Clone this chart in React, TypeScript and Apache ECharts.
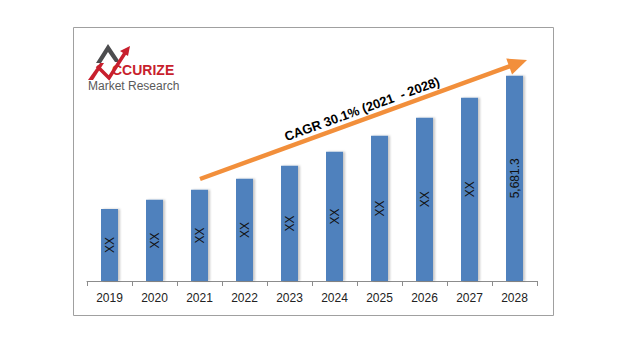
import React, { useEffect, useRef } from "react";
import * as echarts from "echarts";

const years = ["2019", "2020", "2021", "2022", "2023", "2024", "2025", "2026", "2027", "2028"];
const values = [1995, 2245, 2522, 2827, 3187, 3575, 4018, 4517, 5071, 5681.3];
const valueLabels = ["XX", "XX", "XX", "XX", "XX", "XX", "XX", "XX", "XX", "5,681.3"];
const cagrText = "CAGR 30.1% (2021  - 2028)";
const brandText = "CCURIZE";
const subBrandText = "Market Research";

export default function App() {
  const ref = useRef<HTMLDivElement>(null);
  useEffect(() => {
    if (!ref.current) return;
    const chart = echarts.init(ref.current, null, { renderer: "svg" });
    const tip = [527, 60];
    const start = [200, 179];
    const dx = tip[0] - start[0];
    const dy = tip[1] - start[1];
    const len = Math.sqrt(dx * dx + dy * dy);
    const ux = dx / len, uy = dy / len;
    const nx = -uy, ny = ux;
    const hl = 19, hw = 8.5;
    const base = [tip[0] - hl * ux, tip[1] - hl * uy];
    const angle = Math.atan2(-dy, dx);
    chart.setOption({
      animation: false,
      textStyle: { fontFamily: "Liberation Sans, Arial, sans-serif" },
      grid: { left: 87, right: 103, top: 28, bottom: 76 },
      xAxis: {
        type: "category",
        data: years,
        axisLine: { lineStyle: { color: "#8c8c8c", width: 1 } },
        axisTick: { show: true, length: 5, alignWithLabel: false, lineStyle: { color: "#8c8c8c" } },
        axisLabel: { color: "#222", fontSize: 12, margin: 11 },
      },
      yAxis: { type: "value", show: false, min: 0, max: 7000, splitLine: { show: false } },
      series: [
        {
          type: "bar",
          data: values,
          barWidth: 17,
          itemStyle: {
            color: "#4F81BD",
            shadowColor: "rgba(0,0,0,0.22)",
            shadowOffsetX: 2,
            shadowOffsetY: 0,
            shadowBlur: 2,
          },
          label: {
            show: true,
            position: "inside",
            rotate: 90,
            color: "#111",
            fontSize: 12,
            formatter: (p: any) => valueLabels[p.dataIndex],
          },
        },
      ],
      graphic: [
        {
          type: "rect",
          shape: { x: 73.5, y: 27.5, width: 480, height: 288 },
          style: { fill: "none", stroke: "#a0a0a0", lineWidth: 1 },
          z: 0,
        },
        {
          type: "line",
          shape: { x1: start[0], y1: start[1], x2: base[0] + ux * 2, y2: base[1] + uy * 2 },
          style: { stroke: "#F28F3B", lineWidth: 4.5 },
          z: 10,
        },
        {
          type: "polygon",
          shape: {
            points: [
              tip,
              [base[0] + nx * hw, base[1] + ny * hw],
              [base[0] - nx * hw, base[1] - ny * hw],
            ],
          },
          style: { fill: "#F28F3B" },
          z: 10,
        },
        {
          type: "text",
          x: 362,
          y: 109,
          rotation: angle,
          style: {
            text: cagrText,
            font: "bold 13px Liberation Sans, Arial, sans-serif",
            fill: "#000",
            align: "center",
            verticalAlign: "middle",
          },
          z: 10,
        },
        // logo
        {
          type: "polygon",
          shape: { points: [[108, 44], [120, 62], [115, 62], [108, 52], [101, 63], [96, 63]] },
          style: { fill: "#4d4d4f" },
          z: 10,
        },
        {
          type: "polygon",
          shape: { points: [[88, 80], [100, 63], [104, 63], [93, 80]] },
          style: { fill: "#C81F2D" },
          z: 10,
        },
        {
          type: "polyline",
          shape: { points: [[97, 66], [109, 78], [125, 53]] },
          style: { stroke: "#C81F2D", lineWidth: 3.5, fill: "none" },
          z: 10,
        },
        {
          type: "polygon",
          shape: { points: [[130, 46], [120, 51], [128, 56]] },
          style: { fill: "#C81F2D" },
          z: 10,
        },
        {
          type: "text",
          x: 112,
          y: 77,
          style: {
            text: brandText,
            font: "bold 14px Liberation Sans Narrow, Liberation Sans, Arial, sans-serif",
            fill: "#C81F2D",
            align: "left",
            verticalAlign: "bottom",
          },
          z: 10,
        },
        {
          type: "text",
          x: 88,
          y: 86,
          style: {
            text: subBrandText,
            font: "12px Liberation Sans, Arial, sans-serif",
            fill: "#5a5a5a",
            align: "left",
            verticalAlign: "middle",
          },
          z: 10,
        },
      ],
    });
    return () => chart.dispose();
  }, []);
  return <div ref={ref} style={{ position: "absolute", left: 0, top: 0, width: 640, height: 357 }} />;
}
